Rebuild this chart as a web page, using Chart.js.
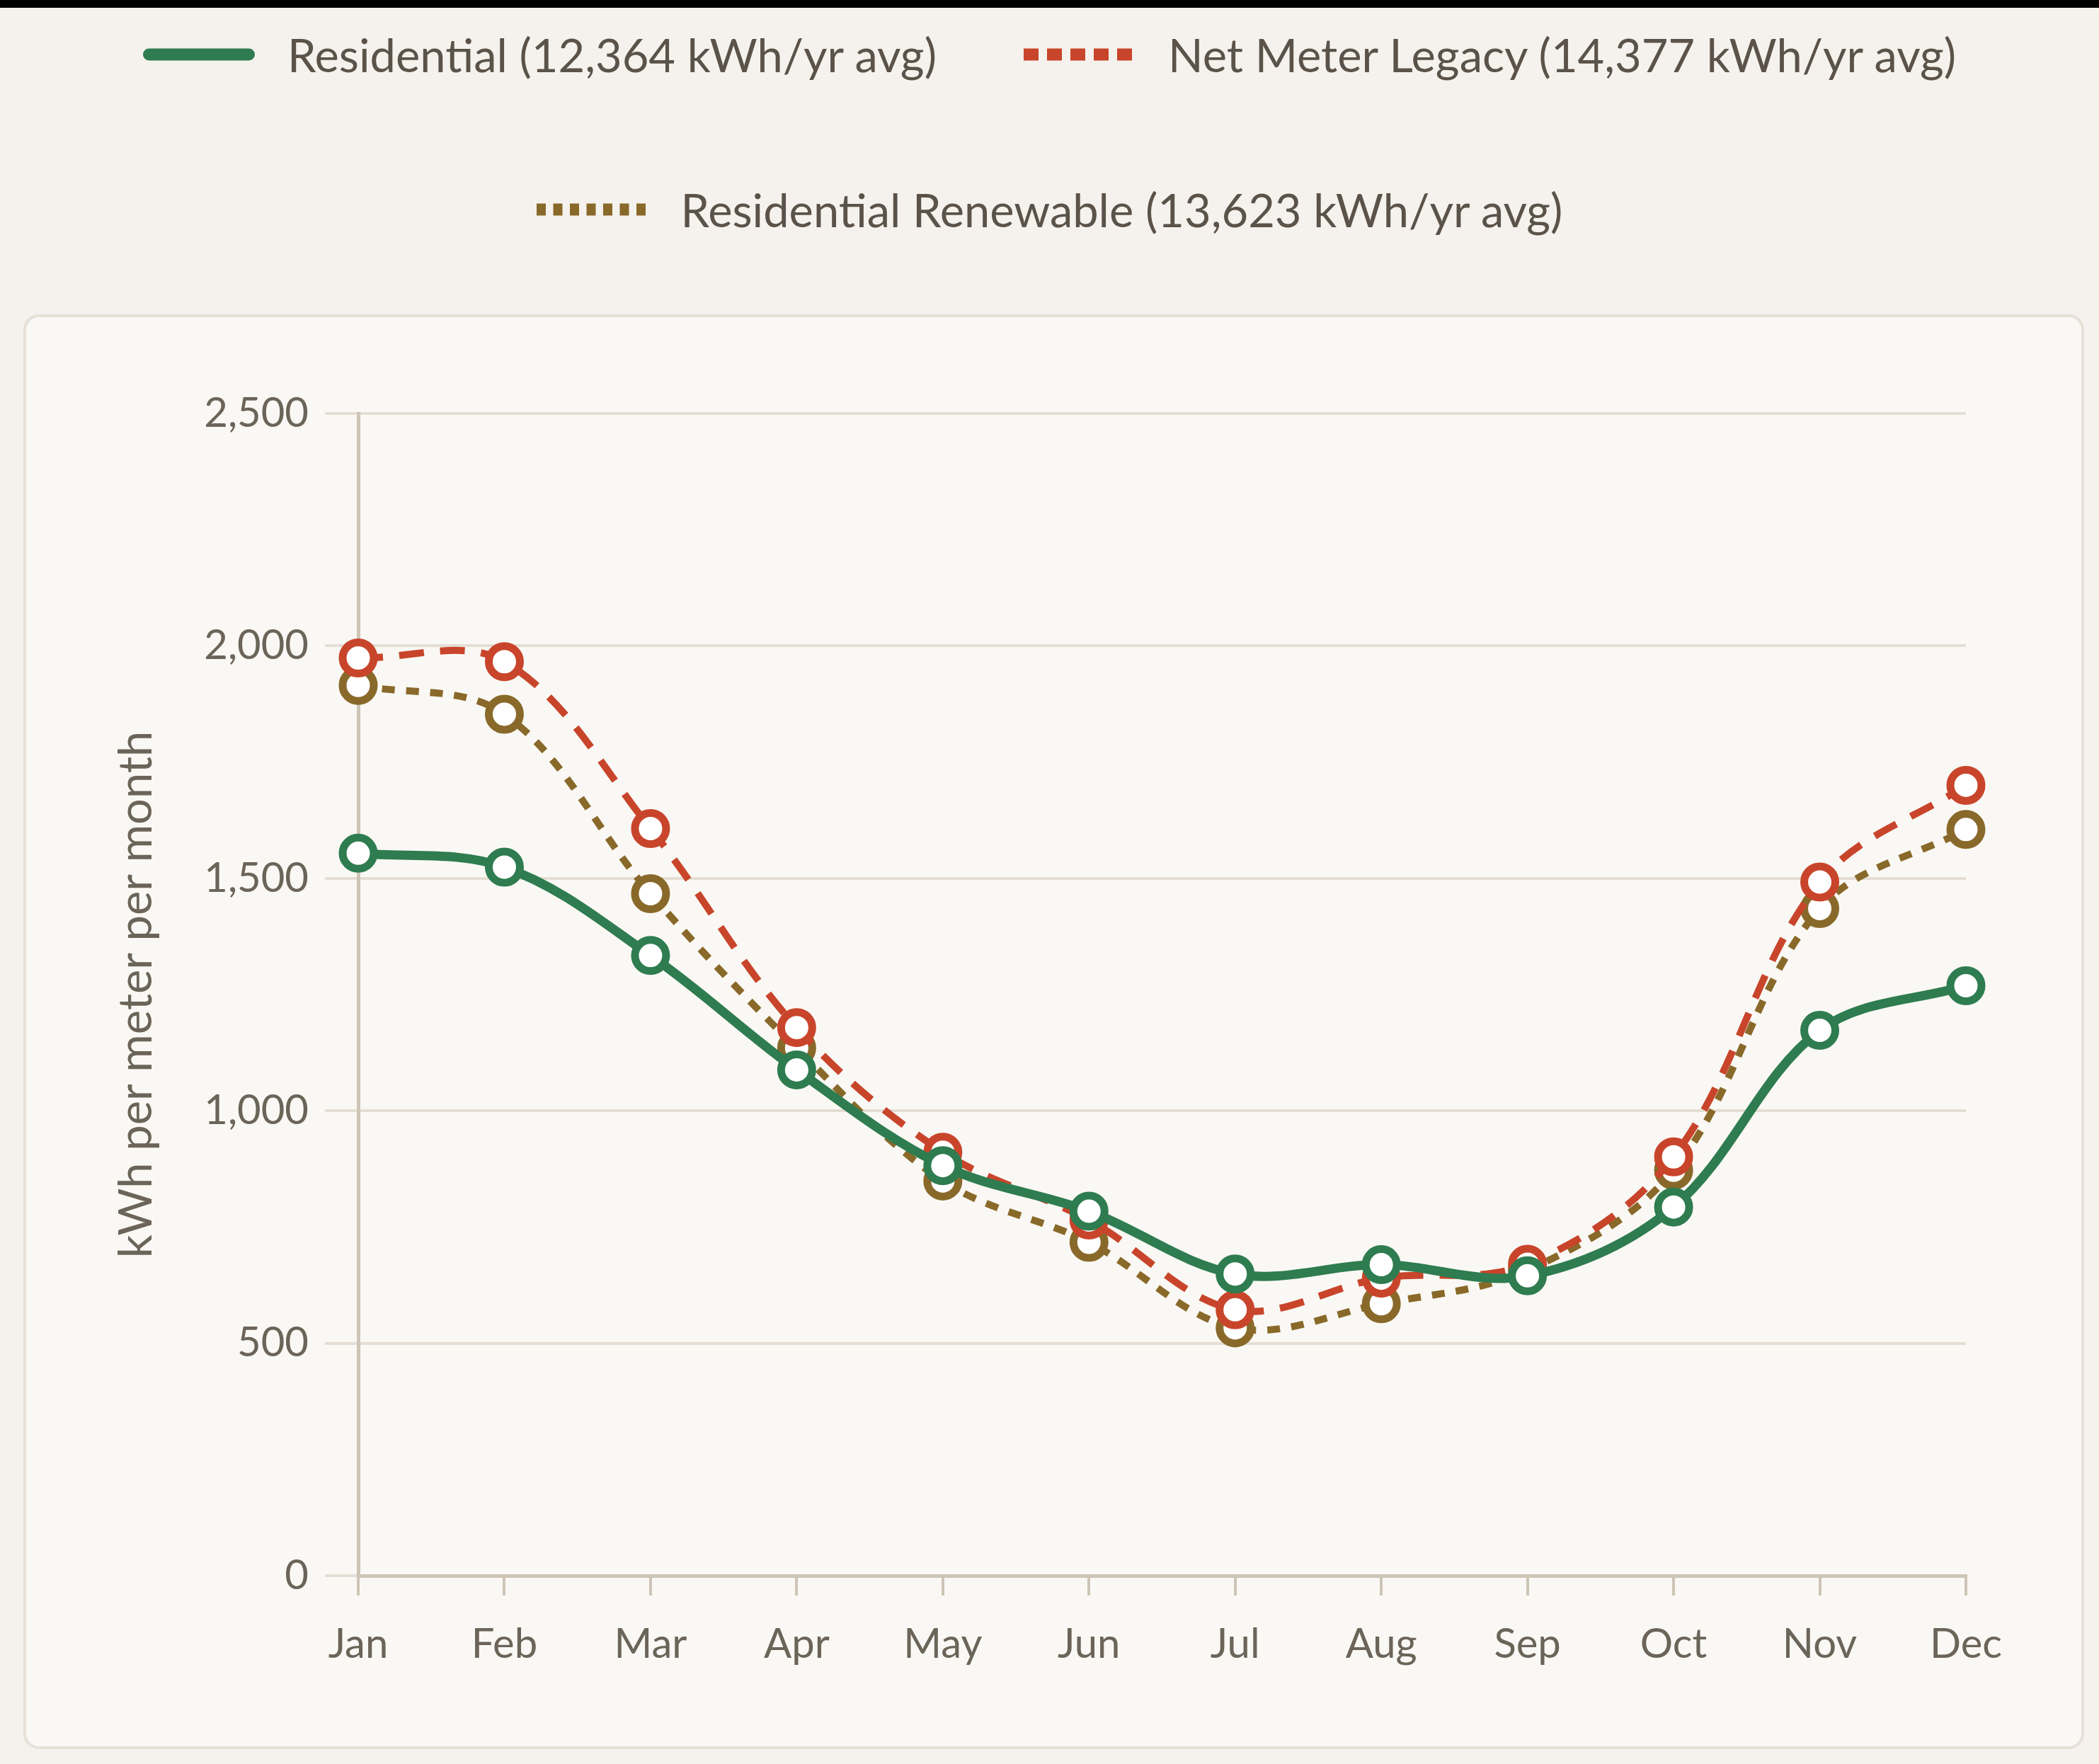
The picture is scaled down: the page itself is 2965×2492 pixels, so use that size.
<!DOCTYPE html>
<html>
<head>
<meta charset="utf-8">
<script src="https://cdn.jsdelivr.net/npm/chart.js@4.4.1/dist/chart.umd.min.js"></script>
<style>
  html, body { margin: 0; padding: 0; }
  body { width: 2965px; height: 2492px; background: #f5f2ed; position: relative; overflow: hidden; font-family: Lato, 'Noto Sans', sans-serif; }
  #topbar { position: absolute; left: 0; top: 0; width: 2965px; height: 11px; background: #000; }
  #legend { position: absolute; left: 0; top: 27px; width: 2965px; display: flex; flex-wrap: wrap; justify-content: center; column-gap: 123px; row-gap: 119px; }
  .lg-item { display: flex; align-items: center; height: 100px; font-size: 65px; color: #5b5349; white-space: nowrap; }
  .lg-item svg { margin-right: 46px; }
  #card { position: absolute; left: 33px; top: 444px; width: 2911px; height: 2027px; box-sizing: border-box; border: 4px solid #e6e0d6; border-radius: 22px; background: #faf8f4; }
  #chart { position: absolute; left: 33px; top: 444px; }
</style>
</head>
<body>
<div id="topbar"></div>
<div id="legend"></div>
<div id="card"></div>
<canvas id="chart" width="2911" height="2027"></canvas>
<script>
const months = ['Jan', 'Feb', 'Mar', 'Apr', 'May', 'Jun', 'Jul', 'Aug', 'Sep', 'Oct', 'Nov', 'Dec'];
const seriesNames = [
    'Residential (12,364 kWh/yr avg)',
    'Net Meter Legacy (14,377 kWh/yr avg)',
    'Residential Renewable (13,623 kWh/yr avg)',
];
// kWh per meter per month
const residential = [1554, 1524, 1334, 1088, 882, 784, 649, 669, 645, 793, 1173, 1269];
const netMeterLegacy = [1974, 1966, 1607, 1179, 911, 765, 572, 640, 670, 901, 1492, 1700];
const residentialRenewable = [1915, 1853, 1467, 1135, 849, 717, 533, 585, 657, 872, 1435, 1605];
const yTicks = [0, 500, 1000, 1500, 2000, 2500];

const GREEN = '#2e7c50';
const RED = '#c8452b';
const BROWN = '#89692a';
const INK = '#6b6459';
const GRID = '#e4ded4';
const AXIS = '#cdc5b6';

// legend swatches: [dasharray, linecap]
const swatch = [
    { color: GREEN, dash: '', cap: 'round' },
    { color: RED, dash: '21 12', cap: 'butt' },
    { color: BROWN, dash: '13 10.5', cap: 'butt' },
];

const mk = (label, data, color, width, dash) => ({
    label, data,
    borderColor: color,
    backgroundColor: color,
    borderWidth: width,
    borderDash: dash,
    tension: 0.35,
    pointRadius: 22,
    pointHoverRadius: 22,
    pointBorderWidth: 11,
    pointBackgroundColor: '#ffffff',
    pointBorderColor: color,
    fill: false,
});

const chart = new Chart(document.getElementById('chart'), {
    type: 'line',
    data: {
        labels: months,
        datasets: [
            mk(seriesNames[0], residential, GREEN, 13, []),
            mk(seriesNames[1], netMeterLegacy, RED, 10, [35, 23]),
            mk(seriesNames[2], residentialRenewable, BROWN, 10, [18, 16]),
        ],
    },
    options: {
        responsive: false,
        animation: false,
        layout: { padding: { top: 140, right: 167, left: 0, bottom: 0 } },
        plugins: {
            legend: { display: false },
            tooltip: { enabled: false },
        },
        scales: {
            x: {
                offset: false,
                grid: { drawOnChartArea: false, drawTicks: true, tickLength: 28, color: AXIS, lineWidth: 4 },
                border: { color: AXIS, width: 5 },
                ticks: { color: INK, font: { family: 'Lato', size: 58 }, padding: 34, maxRotation: 0 },
                afterFit: (s) => { s.height = 245; },
            },
            y: {
                min: 0, max: 2500,
                afterBuildTicks: (s) => { s.ticks = yTicks.map((v) => ({ value: v })); },
                grid: { color: GRID, lineWidth: 4, tickLength: 47, drawTicks: true },
                border: { color: AXIS, width: 5 },
                ticks: {
                    color: INK, font: { family: 'Lato', size: 58 }, padding: 23,
                    callback: (v) => Number(v).toLocaleString('en-US'),
                },
                title: {
                    display: true, text: 'kWh per meter per month', color: INK,
                    font: { family: 'Lato', size: 65 }, padding: { top: 121, bottom: 0 },
                },
                afterFit: (s) => { s.width = 473; },
            },
        },
    },
});

// HTML legend above the card, built from the chart's datasets
const legendEl = document.getElementById('legend');
chart.data.datasets.forEach((ds, i) => {
    const sw = swatch[i];
    const item = document.createElement('div');
    item.className = 'lg-item';
    const inset = sw.cap === 'round' ? 8.5 : 0;
    item.innerHTML =
        `<svg width="158" height="20" viewBox="0 0 158 20">` +
        `<line x1="${inset}" y1="10" x2="${158 - inset}" y2="10" stroke="${sw.color}" stroke-width="17" ` +
        `stroke-linecap="${sw.cap}"${sw.dash ? ` stroke-dasharray="${sw.dash}"` : ''}/></svg>` +
        `<span>${ds.label}</span>`;
    legendEl.appendChild(item);
});
</script>
</body>
</html>
